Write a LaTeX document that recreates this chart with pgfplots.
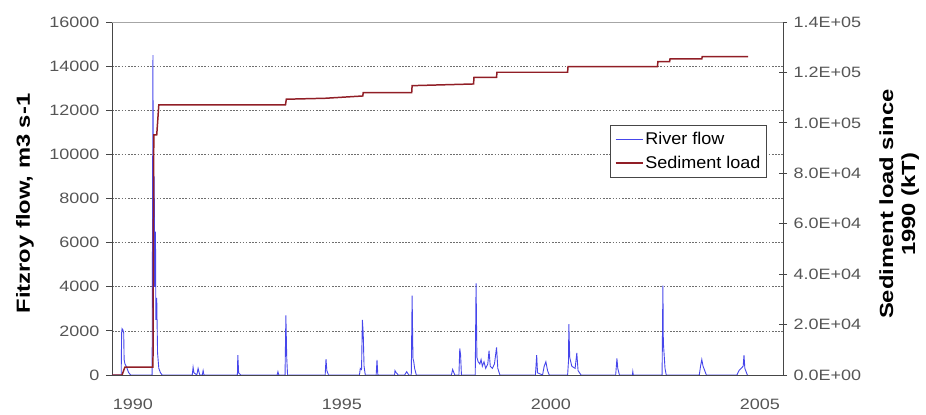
\documentclass[border=0pt]{standalone}
\usepackage{pgfplots}
\pgfplotsset{compat=1.18}
\usepackage{fontspec}
\setmainfont{Liberation Sans}
\newfontfamily\tickf{Liberation Sans}[FakeStretch=1.2]
\newfontfamily\labf{Liberation Sans}[FakeStretch=1.25]
\newfontfamily\legf{Liberation Sans}[FakeStretch=1.06]
\definecolor{flowblue}{RGB}{70,70,235}
\definecolor{sedred}{RGB}{145,30,38}
\definecolor{axgray}{RGB}{70,70,70}
\definecolor{ticktxt}{RGB}{85,85,85}
\definecolor{gridc}{RGB}{110,110,110}
\begin{document}
\begin{tikzpicture}
\useasboundingbox (-112bp,-40bp) rectangle (814bp,375bp);
\begin{axis}[
  scale only axis, width=671bp, height=353bp,
  xmin=1989.5, xmax=2005.553,
  ymin=0, ymax=16000,
  axis x line*=bottom, axis y line*=left,
  axis line style={axgray, line width=0.8pt},
  xtick={1990,1995,2000,2005},
  xticklabels={1990,1995,2000,2005},
  x tick style={draw=none},
  ytick={0,2000,...,16000},
  y tick style={axgray, line width=0.8pt},
  tick align=outside, major tick length=6bp,
  yticklabel style={font=\tickf\fontsize{15bp}{18bp}\selectfont, text=ticktxt, xshift=-3bp},
  xticklabel style={font=\tickf\fontsize{15bp}{18bp}\selectfont, text=ticktxt, yshift=-15bp},
  /pgf/number format/assume math mode=true,
  /pgf/number format/1000 sep={},
  scaled y ticks=false,
  ymajorgrids,
  grid style={gridc, line width=0.6pt, dash pattern=on 1.6pt off 1.6pt},
  ylabel={Fitzroy flow, m3 s-1},
  ylabel style={font=\labf\bfseries\fontsize{19bp}{22bp}\selectfont, at={(axis description cs:-0.1297,0.486)}, anchor=center, rotate=0},
  clip=true,
]
\addplot[flowblue, line width=0.9pt] coordinates {
(1989.50,0) (1989.72,0) (1989.73,1900) (1989.74,2100) (1989.76,2050) (1989.78,1900) (1989.79,700) (1989.81,500) (1989.84,400) (1989.87,250) (1989.90,100) (1989.95,0)
(1990.46,0) (1990.48,14500) (1990.49,5000) (1990.51,9000) (1990.52,4000) (1990.54,6500) (1990.55,2500) (1990.57,3500) (1990.59,1000) (1990.62,300) (1990.66,100) (1990.70,0)
(1991.42,0) (1991.44,350) (1991.46,100) (1991.53,0) (1991.56,300) (1991.60,0) (1991.66,0) (1991.68,200) (1991.70,0)
(1992.50,0) (1992.51,900) (1992.53,100) (1992.58,0)
(1993.45,0) (1993.47,150) (1993.49,0)
(1993.64,0) (1993.66,2700) (1993.68,800) (1993.70,0)
(1994.60,0) (1994.62,720) (1994.64,200) (1994.68,0)
(1995.42,0) (1995.44,300) (1995.47,250) (1995.49,2500) (1995.51,1900) (1995.53,400) (1995.56,0)
(1995.82,0) (1995.84,680) (1995.86,0)
(1996.26,0) (1996.27,200) (1996.30,100) (1996.35,0) (1996.50,0) (1996.55,150) (1996.60,0)
(1996.66,0) (1996.68,3600) (1996.70,750) (1996.72,600) (1996.74,300) (1996.78,0)
(1997.62,0) (1997.65,250) (1997.70,0) (1997.80,0) (1997.82,1200) (1997.84,900) (1997.86,0)
(1998.19,0) (1998.21,4150) (1998.23,800) (1998.26,600) (1998.30,500) (1998.33,700) (1998.36,400) (1998.40,600) (1998.44,300) (1998.49,500) (1998.52,1100) (1998.55,400) (1998.60,300) (1998.65,500) (1998.70,1250) (1998.73,300) (1998.78,0)
(1999.63,0) (1999.66,900) (1999.68,100) (1999.80,0) (1999.84,400) (1999.88,600) (1999.92,200) (1999.96,0)
(2000.40,0) (2000.42,600) (2000.43,2300) (2000.45,800) (2000.50,400) (2000.58,300) (2000.62,1000) (2000.65,200) (2000.72,0)
(2001.55,0) (2001.58,750) (2001.60,300) (2001.64,0)
(2001.95,0) (2001.96,150) (2001.97,0)
(2002.66,0) (2002.68,4050) (2002.69,1500) (2002.71,900) (2002.73,300) (2002.76,0)
(2003.55,0) (2003.58,400) (2003.61,700) (2003.64,400) (2003.68,200) (2003.72,0)
(2004.45,0) (2004.50,200) (2004.55,300) (2004.60,400) (2004.62,900) (2004.64,300) (2004.70,0) (2004.72,0)
};
\end{axis}
\begin{axis}[
  scale only axis, width=671bp, height=353bp,
  xmin=1989.5, xmax=2005.553,
  ymin=0, ymax=140000,
  axis x line*=top, axis y line*=right,
  x axis line style={draw=gray!70, line width=0.6pt},
  y axis line style={axgray, line width=0.8pt},
  xtick=\empty,
  scaled y ticks=false,
  ytick={0,20000,...,140000},
  yticklabels={0.0E+00,2.0E+04,4.0E+04,6.0E+04,8.0E+04,1.0E+05,1.2E+05,1.4E+05},
  y tick style={axgray, line width=0.8pt},
  tick align=center, major tick length=8bp,
  yticklabel style={font=\tickf\fontsize{15bp}{18bp}\selectfont, text=ticktxt, xshift=3bp},
  ylabel={Sediment load since\\1990 (kT)},
  ylabel style={font=\labf\bfseries\fontsize{19bp}{22bp}\selectfont, align=center, at={(axis description cs:1.173,0.484)}, anchor=center, rotate=0},
  legend style={at={(axis description cs:0.976,0.708)}, anchor=north east, draw=axgray, line width=0.8pt, fill=white, font=\legf\fontsize{17bp}{20bp}\selectfont, row sep=6bp, inner xsep=4bp, inner ysep=5bp},
  legend cell align=left,
  legend image code/.code={\draw[#1] (0bp,0bp) -- (27bp,0bp);},
  clip=true,
]
\addlegendimage{flowblue, line width=0.6pt}
\addlegendentry{River flow}
\addplot[sedred, line width=1.5pt] coordinates {
(1989.50,0) (1989.74,0) (1989.81,3170) (1990.48,3170) (1990.50,95200) (1990.57,95200) (1990.62,107100)
(1993.65,107100) (1993.67,109375) (1994.60,109750) (1995.50,110660) (1995.51,111975)
(1996.67,111975) (1996.68,114750) (1998.15,115420) (1998.16,118080) (1998.70,118080) (1998.71,120070)
(2000.40,120070) (2000.41,122290) (2002.55,122290) (2002.56,124270) (2002.84,124270) (2002.85,125340)
(2003.61,125340) (2003.62,126250) (2004.72,126250)
};
\addlegendentry{Sediment load}
\end{axis}
\end{tikzpicture}
\end{document}
